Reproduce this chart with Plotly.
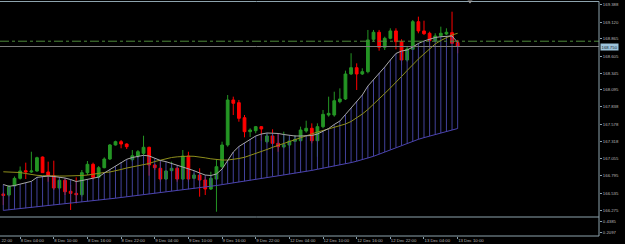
import plotly.graph_objects as go

# ---------------- data (H1 bars, index 0 = 8 Dec 01:00) ----------------
bars = list(range(82))
opens = [166.521, 166.506, 166.642, 166.758, 166.874, 166.854, 166.869, 167.080, 166.854, 166.798,
         166.612, 166.728, 166.562, 166.531, 166.511, 166.844, 166.970, 166.773, 166.919, 167.050,
         167.262, 167.312, 167.277, 167.040, 167.096, 167.136, 167.227, 166.960, 166.910, 166.748,
         166.874, 166.910, 166.748, 167.096, 166.758, 166.808, 166.733, 166.597, 166.748, 166.934,
         167.262, 167.942, 167.901, 167.674, 167.463, 167.478, 167.539, 167.312, 167.398, 167.287,
         167.232, 167.262, 167.318, 167.327, 167.473, 167.514, 167.327, 167.539, 167.715, 167.715,
         167.916, 167.957, 168.335, 168.430, 168.335, 168.370, 168.859, 168.965, 168.738, 168.874,
         168.985, 168.823, 168.546, 168.708, 169.125, 168.985, 168.950, 168.838, 168.914, 168.939,
         168.959, 168.808]
highs = [166.544, 166.657, 166.786, 166.937, 166.995, 167.160, 167.085, 167.088, 167.010, 167.025,
         166.758, 166.752, 166.657, 166.773, 166.884, 167.020, 166.995, 166.944, 167.075, 167.277,
         167.327, 167.337, 167.287, 167.186, 167.186, 167.402, 167.236, 166.970, 167.010, 166.884,
         167.010, 166.934, 167.186, 167.160, 166.834, 166.910, 166.783, 166.858, 167.050, 167.312,
         168.017, 167.992, 167.942, 167.715, 167.514, 167.549, 167.549, 167.428, 167.499, 167.438,
         167.463, 167.378, 167.413, 167.539, 167.629, 167.589, 167.589, 167.791, 167.992, 168.067,
         168.118, 168.385, 168.648, 168.496, 168.421, 169.000, 169.000, 169.000, 168.898, 169.025,
         169.025, 168.859, 168.747, 169.151, 169.201, 169.140, 168.974, 168.950, 169.050, 169.025,
         169.276, 168.849]
lows = [166.355, 166.484, 166.635, 166.740, 166.748, 166.839, 166.858, 166.839, 166.707, 166.582,
        166.582, 166.506, 166.280, 166.380, 166.481, 166.808, 166.743, 166.758, 166.910, 167.035,
        167.254, 167.212, 167.201, 167.010, 167.065, 167.111, 166.798, 166.884, 166.707, 166.733,
        166.858, 166.707, 166.733, 166.707, 166.748, 166.481, 166.506, 166.582, 166.254, 166.910,
        167.236, 167.715, 167.614, 167.378, 167.383, 167.438, 167.327, 167.287, 167.262, 167.160,
        167.212, 167.212, 167.307, 167.312, 167.448, 167.287, 167.085, 167.514, 167.690, 167.690,
        167.892, 167.942, 168.320, 168.093, 168.320, 168.345, 168.823, 168.687, 168.697, 168.859,
        168.708, 168.471, 168.521, 168.697, 168.950, 168.924, 168.747, 168.823, 168.898, 168.924,
        168.788, 168.647]
closes = [166.499, 166.632, 166.758, 166.869, 166.854, 166.869, 167.070, 166.844, 166.803, 166.612,
          166.728, 166.556, 166.531, 166.511, 166.844, 166.970, 166.773, 166.919, 167.050, 167.262,
          167.312, 167.277, 167.236, 167.100, 167.161, 167.227, 166.960, 166.919, 166.748, 166.869,
          166.910, 166.748, 167.096, 166.748, 166.808, 166.733, 166.597, 166.758, 166.934, 167.262,
          167.942, 167.892, 167.665, 167.463, 167.488, 167.539, 167.504, 167.398, 167.287, 167.236,
          167.266, 167.322, 167.348, 167.488, 167.514, 167.327, 167.539, 167.725, 167.740, 167.931,
          167.957, 168.335, 168.430, 168.335, 168.370, 168.849, 168.965, 168.738, 168.874, 168.985,
          168.823, 168.546, 168.712, 169.125, 168.985, 168.944, 168.838, 168.909, 168.950, 168.965,
          168.799, 168.750]

ma_fast = [166.665, 166.638, 166.650, 166.668, 166.688, 166.713, 166.773, 166.786, 166.793, 166.786,
           166.778, 166.763, 166.740, 166.710, 166.725, 166.743, 166.752, 166.778, 166.839, 166.892,
           166.944, 167.005, 167.046, 167.073, 167.091, 167.106, 167.096, 167.058, 167.028, 167.010,
           166.982, 166.957, 166.934, 166.910, 166.874, 166.839, 166.808, 166.801, 166.824, 166.899,
           167.035, 167.156, 167.239, 167.292, 167.352, 167.398, 167.428, 167.443, 167.440, 167.436,
           167.420, 167.408, 167.398, 167.398, 167.398, 167.405, 167.428, 167.466, 167.511, 167.572,
           167.624, 167.723, 167.821, 167.927, 168.017, 168.153, 168.244, 168.350, 168.440, 168.546,
           168.645, 168.682, 168.697, 168.743, 168.796, 168.833, 168.864, 168.886, 168.898, 168.909,
           168.909, 168.811]
ma_slow = [166.857, 166.854, 166.851, 166.846, 166.831, 166.813, 166.804, 166.798, 166.793, 166.793,
           166.793, 166.793, 166.793, 166.796, 166.801, 166.808, 166.824, 166.839, 166.846, 166.854,
           166.869, 166.892, 166.914, 166.929, 166.944, 166.963, 166.982, 167.012, 167.035, 167.055,
           167.073, 167.083, 167.091, 167.093, 167.091, 167.083, 167.068, 167.053, 167.043, 167.035,
           167.035, 167.043, 167.058, 167.076, 167.103, 167.133, 167.159, 167.194, 167.227, 167.257,
           167.284, 167.315, 167.345, 167.375, 167.405, 167.436, 167.458, 167.481, 167.504, 167.526,
           167.549, 167.579, 167.617, 167.670, 167.730, 167.798, 167.874, 167.957, 168.040, 168.123,
           168.206, 168.297, 168.388, 168.478, 168.561, 168.637, 168.712, 168.788, 168.841, 168.886,
           168.924, 168.950]
lower_line = [166.274, 166.283, 166.292, 166.299, 166.307, 166.314, 166.323, 166.334, 166.343, 166.354,
              166.364, 166.375, 166.384, 166.393, 166.402, 166.411, 166.420, 166.429, 166.438, 166.449,
              166.458, 166.469, 166.479, 166.490, 166.500, 166.511, 166.521, 166.532, 166.544, 166.555,
              166.565, 166.576, 166.585, 166.594, 166.603, 166.612, 166.624, 166.636, 166.650, 166.663,
              166.675, 166.688, 166.701, 166.715, 166.728, 166.742, 166.757, 166.771, 166.783, 166.796,
              166.808, 166.822, 166.834, 166.848, 166.863, 166.878, 166.895, 166.910, 166.925, 166.941,
              166.960, 166.978, 166.996, 167.017, 167.038, 167.062, 167.091, 167.123, 167.156, 167.191,
              167.224, 167.256, 167.287, 167.318, 167.348, 167.373, 167.396, 167.419, 167.442, 167.464,
              167.488, 167.511]

time_tick_bars = [3, 9, 15, 21, 27, 33, 39, 45, 51, 57, 63, 69, 75, 81]
time_tick_labels = ["8 Dec 04:00", "8 Dec 10:00", "8 Dec 16:00", "8 Dec 22:00",
                    "9 Dec 04:00", "9 Dec 10:00", "9 Dec 16:00", "9 Dec 22:00",
                    "12 Dec 04:00", "12 Dec 10:00", "12 Dec 16:00", "12 Dec 22:00",
                    "13 Dec 04:00", "13 Dec 10:00"]
partial_tick_bar = -3
partial_tick_label = "7 Dec 22:00"

price_ticks = [169.388, 169.120, 168.865, 168.605, 168.345, 168.095, 167.838,
               167.578, 167.318, 167.055, 166.795, 166.535, 166.275]
price_tick_text = ["169.388", "169.120", "168.865", "168.605", "168.345", "168.095", "167.838",
                   "167.578", "167.318", "167.055", "166.795", "166.535", "166.275"]
sub_ticks = [0.4385, 0.2097]
sub_tick_text = ["0.4385", "0.2097"]

bid_price = 168.750
bid_text = "168.750"
level_price = 168.830

# ---------------- geometry / style ----------------
W, H = 625, 244
x_dom = [0, 599 / W]
x_rng = [-0.59, 106.2]
y_dom = [(H - 217) / H, (H - 1.5) / H]
y_rng = [166.174, 169.430]
y2_dom = [(H - 236) / H, (H - 217) / H]
y2_rng = [0.1435, 0.5248]

BORDER = "#8da3ad"
TXT = "#b8b8b8"
FONT = "Liberation Sans"
GREEN = "#249524"
RED = "#ff0000"

fig = go.Figure()

# vertical histogram lines between lower line and fast MA
vx, vy = [], []
for i, lo, hi in zip(bars, lower_line, ma_fast):
    vx += [i, i, None]
    vy += [lo, hi, None]
fig.add_trace(go.Scatter(x=vx, y=vy, mode="lines", line=dict(color="#42429a", width=1),
                         hoverinfo="skip", showlegend=False))
fig.add_trace(go.Scatter(x=bars, y=lower_line, mode="lines", line=dict(color="#4c44b0", width=1),
                         showlegend=False))
fig.add_trace(go.Scatter(x=bars, y=ma_slow, mode="lines", line=dict(color="#8e8e1c", width=1),
                         showlegend=False))
fig.add_trace(go.Scatter(x=bars, y=ma_fast, mode="lines", line=dict(color="#a8a8a8", width=1),
                         showlegend=False))

fig.add_trace(go.Candlestick(
    x=bars, open=opens, high=highs, low=lows, close=closes,
    increasing=dict(line=dict(color=GREEN, width=1), fillcolor=GREEN),
    decreasing=dict(line=dict(color=RED, width=1), fillcolor=RED),
    whiskerwidth=0, showlegend=False))

# empty sub-window indicator
fig.add_trace(go.Scatter(x=[None], y=[None], xaxis="x", yaxis="y2", mode="lines",
                         showlegend=False))

axfont = dict(family=FONT, size=4.3, color=TXT)
fig.update_layout(
    width=W, height=H, margin=dict(l=0, r=0, t=0, b=0, autoexpand=False),
    paper_bgcolor="black", plot_bgcolor="black",
    showlegend=False,
    xaxis=dict(domain=x_dom, range=x_rng, anchor="y2", tickmode="array",
               tickvals=time_tick_bars, ticktext=time_tick_labels, tickangle=0,
               ticks="outside", ticklen=2, tickcolor=BORDER, tickwidth=1,
               ticklabelposition="outside right", tickfont=axfont, automargin=False,
               showgrid=False, zeroline=False, showline=False,
               rangeslider=dict(visible=False), fixedrange=True),
    yaxis=dict(domain=y_dom, range=y_rng, anchor="x", side="right", automargin=False,
               tickmode="array", tickvals=price_ticks, ticktext=price_tick_text,
               ticks="outside", ticklen=2, tickcolor=BORDER, tickfont=axfont,
               showgrid=False, zeroline=False, showline=False, fixedrange=True),
    yaxis2=dict(domain=y2_dom, range=y2_rng, anchor="x", side="right", automargin=False,
                tickmode="array", tickvals=sub_ticks, ticktext=sub_tick_text,
                ticks="outside", ticklen=2, tickcolor=BORDER, tickfont=axfont,
                showgrid=False, zeroline=False, showline=False, fixedrange=True),
)

# partial first time label (its bar lies left of the visible range)
px_frac = x_dom[0] + (partial_tick_bar - x_rng[0]) / (x_rng[1] - x_rng[0]) * (x_dom[1] - x_dom[0])
fig.add_annotation(x=px_frac, y=(H - 240) / H, xref="paper", yref="paper", xanchor="left",
                   yanchor="middle", xshift=1, showarrow=False,
                   text=partial_tick_label, font=axfont)

# bid line, level line and bid label
fig.add_shape(type="line", xref="paper", yref="y", x0=x_dom[0], x1=x_dom[1],
              y0=bid_price, y1=bid_price, line=dict(color="#7c7c7c", width=1))
fig.add_shape(type="line", xref="paper", yref="y", x0=x_dom[0], x1=x_dom[1],
              y0=level_price, y1=level_price, line=dict(color="#4f8a3a", width=1, dash="dashdot"))
fig.add_annotation(x=x_dom[1], y=bid_price, xref="paper", yref="y", xanchor="left",
                   yanchor="middle", xshift=1, showarrow=False, text=bid_text,
                   font=dict(family=FONT, size=4.3, color="#10202a"),
                   bgcolor="#9cc4dc", borderpad=0.5)

# window borders
def hline(y_px):
    fig.add_shape(type="line", xref="paper", yref="paper", x0=0, x1=x_dom[1],
                  y0=(H - y_px) / H, y1=(H - y_px) / H, line=dict(color=BORDER, width=1))

hline(1.5)
hline(217)
hline(236)
fig.add_shape(type="line", xref="paper", yref="paper", x0=x_dom[1], x1=x_dom[1],
              y0=(H - 236) / H, y1=(H - 1.5) / H, line=dict(color=BORDER, width=1))

# chart-shift marker at the top
fig.add_shape(type="path", xref="paper", yref="paper",
              path="M %.4f %.4f L %.4f %.4f L %.4f %.4f Z" % (467.5 / W, (H - 0.5) / H,
                                                            472.5 / W, (H - 0.5) / H,
                                                            470 / W, (H - 3.5) / H),
              fillcolor="#9a9a9a", line=dict(width=0))

fig.write_html("out.html")
